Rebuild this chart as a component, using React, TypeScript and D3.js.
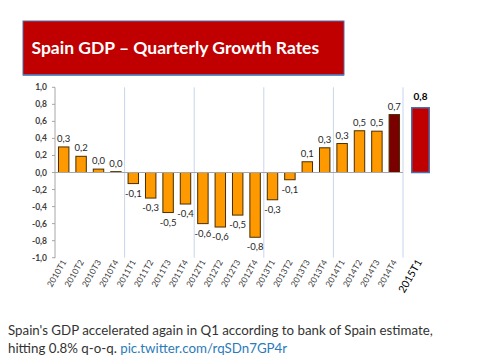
import React from 'react';
import * as d3 from 'd3';

const quarters = [
  '2010T1', '2010T2', '2010T3', '2010T4',
  '2011T1', '2011T2', '2011T3', '2011T4',
  '2012T1', '2012T2', '2012T3', '2012T4',
  '2013T1', '2013T2', '2013T3', '2013T4',
  '2014T1', '2014T2', '2014T3', '2014T4',
];
const growth = [
  0.3, 0.19, 0.04, 0.01,
  -0.13, -0.3, -0.47, -0.37,
  -0.6, -0.64, -0.5, -0.76,
  -0.32, -0.085, 0.126, 0.29,
  0.34, 0.49, 0.485, 0.68,
];
const estimateQuarter = '2015T1';
const estimateValue = 0.76;
const estimateLabel = '0,8';
const yTicks = [1.0, 0.8, 0.6, 0.4, 0.2, 0.0, -0.2, -0.4, -0.6, -0.8, -1.0];
const yearBreaks = ['2011T1', '2012T1', '2013T1', '2014T1'];

const fmt = (v: number) => d3.format('.1f')(v).replace('.', ',').replace('−', '-');

function App() {
  const x = d3.scaleBand().domain(quarters).range([55, 403]).paddingInner(0.4).paddingOuter(0.2);
  const xEst = d3.scaleBand().domain([estimateQuarter]).range([403, 438]).paddingInner(0.5).paddingOuter(0.25);
  const y = d3.scaleLinear().domain([-1, 1]).range([257.7, 87.3]);
  const gridTop = y(1);
  const gridBottom = y(-1);

  return (
    <svg width={493} height={363} style={{ position: 'absolute', left: 0, top: 0, background: '#fff' }}>
      {/* title box */}
      <rect x={23} y={21} width={321} height={54} fill="#c00000" stroke="#4f6fa8" strokeWidth={1} />
      <line x1={23} x2={344} y1={75} y2={75} stroke="#4f81bd" strokeWidth={1.5} />
      <text x={31.5} y={54} fill="#fff" fontFamily="Lato" fontWeight="bold" fontSize={17.5}>
        Spain GDP – Quarterly Growth Rates
      </text>

      {/* year separators */}
      {yearBreaks.map((q) => (
        <line key={q} x1={x(q)! - x.step() * x.paddingInner() / 2} x2={x(q)! - x.step() * x.paddingInner() / 2}
          y1={gridTop} y2={gridBottom} stroke="#c9d6ec" strokeWidth={1} />
      ))}
      <line x1={403} x2={403} y1={gridTop} y2={gridBottom} stroke="#c9d6ec" strokeWidth={1} />

      {/* y axis */}
      <line x1={55} x2={55} y1={gridTop} y2={gridBottom + 0.5} stroke="#a6a6a6" />
      {yTicks.map((t) => (
        <g key={t}>
          <line x1={52} x2={55} y1={y(t)} y2={y(t)} stroke="#a6a6a6" />
          <text x={47} y={y(t) + 3} textAnchor="end" fontFamily="Lato" fontWeight="bold" fontSize={8.5} fill="#404040">
            {fmt(t)}
          </text>
        </g>
      ))}

      {/* bars */}
      {quarters.map((q, i) => {
        const v = growth[i];
        const top = Math.min(y(v), y(0));
        const h = Math.abs(y(v) - y(0));
        const last = i === quarters.length - 1;
        return (
          <g key={q}>
            <rect x={x(q)} y={top} width={x.bandwidth()} height={h}
              fill={last ? '#7a0000' : '#ff9900'} stroke="#4a2e00" strokeWidth={1} />
            <text x={x(q)! + x.bandwidth() / 2} y={v >= 0 ? y(v) - 5 : y(v) + 13} textAnchor="middle"
              fontFamily="Lato" fontSize={9.5} fill="#262626">
              {fmt(v)}
            </text>
          </g>
        );
      })}

      {/* zero line */}
      <line x1={55} x2={403} y1={y(0)} y2={y(0)} stroke="#a6a6a6" strokeWidth={1} />

      {/* estimate bar */}
      <rect x={xEst(estimateQuarter)} y={y(estimateValue)} width={xEst.bandwidth()}
        height={y(0) - y(estimateValue)} fill="#c00000" stroke="#4f6fa8" strokeWidth={1.5} />
      <text x={xEst(estimateQuarter)! + xEst.bandwidth() / 2} y={y(estimateValue) - 8} textAnchor="middle"
        fontFamily="Lato" fontWeight="bold" fontSize={10} fill="#000">
        {estimateLabel}
      </text>

      {/* x labels */}
      {quarters.map((q) => {
        const cx = x(q)! + x.bandwidth() / 2 + 3;
        return (
          <text key={q} transform={`translate(${cx},${262}) rotate(-60)`} textAnchor="end"
            fontFamily="Lato" fontSize={8.5} fill="#404040">
            {q}
          </text>
        );
      })}
      <text transform={`translate(${xEst(estimateQuarter)! + xEst.bandwidth() / 2 + 2},${262}) rotate(-60)`}
        textAnchor="end" fontFamily="Lato" fontSize={10.5} fill="#000">
        {estimateQuarter}
      </text>

      {/* caption */}
      <text x={8} y={335} fontFamily="Lato" fontSize={13.3} fill="#333">
        Spain's GDP accelerated again in Q1 according to bank of Spain estimate,
      </text>
      <text x={8} y={353} fontFamily="Lato" fontSize={13.3} fill="#333">
        hitting 0.8% q-o-q. <tspan fill="#2b7bb9">pic.twitter.com/rqSDn7GP4r</tspan>
      </text>
    </svg>
  );
}

export default App;
